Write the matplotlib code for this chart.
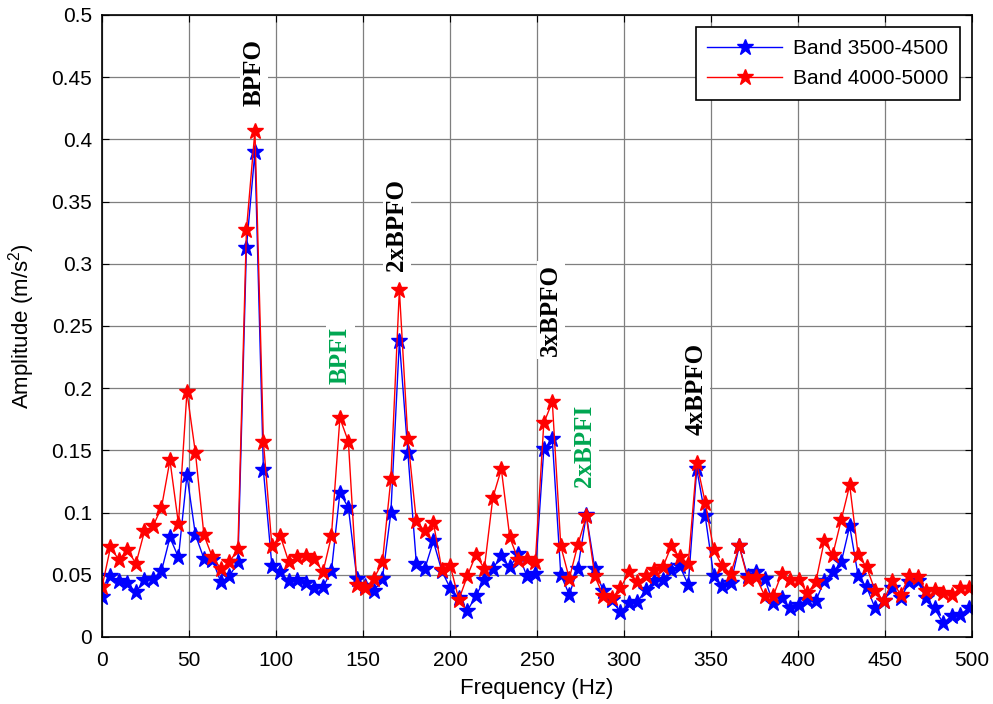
import numpy as np
import matplotlib
matplotlib.use('Agg')
import matplotlib.pyplot as plt

# спектр огибающей, шаг по частоте fs/N = 5000/1024
freq_step = 5000 / 1024
n_points = 103

band_3500_4500 = [0.032, 0.049, 0.045, 0.043, 0.036, 0.046, 0.047, 0.053, 0.080, 0.064,
                  0.130, 0.082, 0.063, 0.062, 0.044, 0.049, 0.060, 0.313, 0.390, 0.134,
                  0.057, 0.052, 0.045, 0.046, 0.043, 0.039, 0.040, 0.053, 0.116, 0.104,
                  0.047, 0.041, 0.037, 0.047, 0.100, 0.238, 0.148, 0.059, 0.055, 0.077,
                  0.053, 0.039, 0.031, 0.021, 0.033, 0.046, 0.055, 0.065, 0.056, 0.067,
                  0.049, 0.051, 0.151, 0.159, 0.050, 0.034, 0.055, 0.098, 0.055, 0.037,
                  0.030, 0.020, 0.027, 0.028, 0.038, 0.045, 0.046, 0.054, 0.057, 0.042,
                  0.135, 0.097, 0.049, 0.041, 0.043, 0.073, 0.049, 0.052, 0.047, 0.027,
                  0.031, 0.023, 0.026, 0.030, 0.029, 0.045, 0.052, 0.060, 0.089, 0.049,
                  0.040, 0.023, 0.029, 0.039, 0.031, 0.044, 0.045, 0.031, 0.023, 0.011,
                  0.017, 0.018, 0.023]

band_4000_5000 = [0.040, 0.072, 0.062, 0.070, 0.059, 0.085, 0.089, 0.104, 0.142, 0.091,
                  0.197, 0.148, 0.082, 0.064, 0.055, 0.060, 0.071, 0.327, 0.407, 0.157,
                  0.073, 0.081, 0.060, 0.064, 0.065, 0.063, 0.052, 0.081, 0.176, 0.157,
                  0.042, 0.039, 0.047, 0.060, 0.127, 0.279, 0.159, 0.093, 0.085, 0.092,
                  0.054, 0.057, 0.030, 0.049, 0.066, 0.055, 0.112, 0.135, 0.080, 0.062,
                  0.063, 0.060, 0.172, 0.189, 0.073, 0.047, 0.074, 0.097, 0.049, 0.033,
                  0.031, 0.039, 0.052, 0.044, 0.049, 0.054, 0.056, 0.073, 0.064, 0.059,
                  0.140, 0.108, 0.070, 0.057, 0.051, 0.073, 0.047, 0.048, 0.033, 0.033,
                  0.051, 0.046, 0.046, 0.035, 0.044, 0.077, 0.066, 0.094, 0.122, 0.066,
                  0.056, 0.037, 0.029, 0.045, 0.034, 0.049, 0.048, 0.037, 0.038, 0.035,
                  0.034, 0.039, 0.039]

# подписи дефектных частот: текст, x (Гц), y, цвет
fault_labels = ['BPFO', 'BPFI', '2xBPFO', '3xBPFO', '2xBPFI', '4xBPFO']
fault_x = [87.5, 137.0, 169.5, 258.0, 277.5, 341.5]
fault_y = [0.454, 0.226, 0.331, 0.263, 0.154, 0.199]
fault_colors = ['black', '#00a651', 'black', 'black', '#00a651', 'black']

y_ticks = [0, 0.05, 0.1, 0.15, 0.2, 0.25, 0.3, 0.35, 0.4, 0.45, 0.5]
y_tick_labels = ['0', '0.05', '0.1', '0.15', '0.2', '0.25', '0.3', '0.35', '0.4', '0.45', '0.5']
x_ticks = [0, 50, 100, 150, 200, 250, 300, 350, 400, 450, 500]

plt.rcParams['font.family'] = ['Liberation Sans', 'DejaVu Sans']
plt.rcParams['mathtext.fontset'] = 'custom'
plt.rcParams['mathtext.rm'] = 'Liberation Sans'

freq = np.arange(n_points) * freq_step

fig = plt.figure(figsize=(9.93, 7.04), dpi=100)
ax = fig.add_axes([0.1027, 0.0952, 0.8762, 0.8835])

ax.plot(freq, band_3500_4500, color='blue', lw=1, marker='*', ms=12,
        label='Band 3500-4500')
ax.plot(freq, band_4000_5000, color='red', lw=1, marker='*', ms=12,
        label='Band 4000-5000')

for txt, fx, fy, col in zip(fault_labels, fault_x, fault_y, fault_colors):
    ax.text(fx, fy, txt, rotation=90, ha='center', va='center', color=col,
            fontsize=18, fontweight='bold', family=['Liberation Serif', 'DejaVu Serif'],
            bbox=dict(facecolor='white', edgecolor='none', pad=2), zorder=3)

ax.set_xlim(0, 500)
ax.set_ylim(0, 0.5)
ax.set_xticks(x_ticks)
ax.set_yticks(y_ticks)
ax.set_yticklabels(y_tick_labels)
ax.tick_params(direction='in', top=True, right=True, labelsize=15, length=5, pad=7)
ax.tick_params(axis='x', pad=10)
ax.grid(True, color='#7f7f7f', lw=0.9)
ax.set_axisbelow(True)
for sp in ax.spines.values():
    sp.set_linewidth(1.2)

ax.set_xlabel('Frequency (Hz)', fontsize=16, labelpad=6)
ax.set_ylabel('Amplitude (m/s$^\\mathregular{2}$)', fontsize=16, labelpad=10)

leg = ax.legend(loc='upper right', fontsize=15, fancybox=False, framealpha=1,
                edgecolor='black', borderaxespad=0.6, handlelength=3.6,
                labelspacing=0.55, borderpad=0.55, handletextpad=0.5)
leg.get_frame().set_linewidth(1.2)

fig.savefig('out.png', dpi=100)
